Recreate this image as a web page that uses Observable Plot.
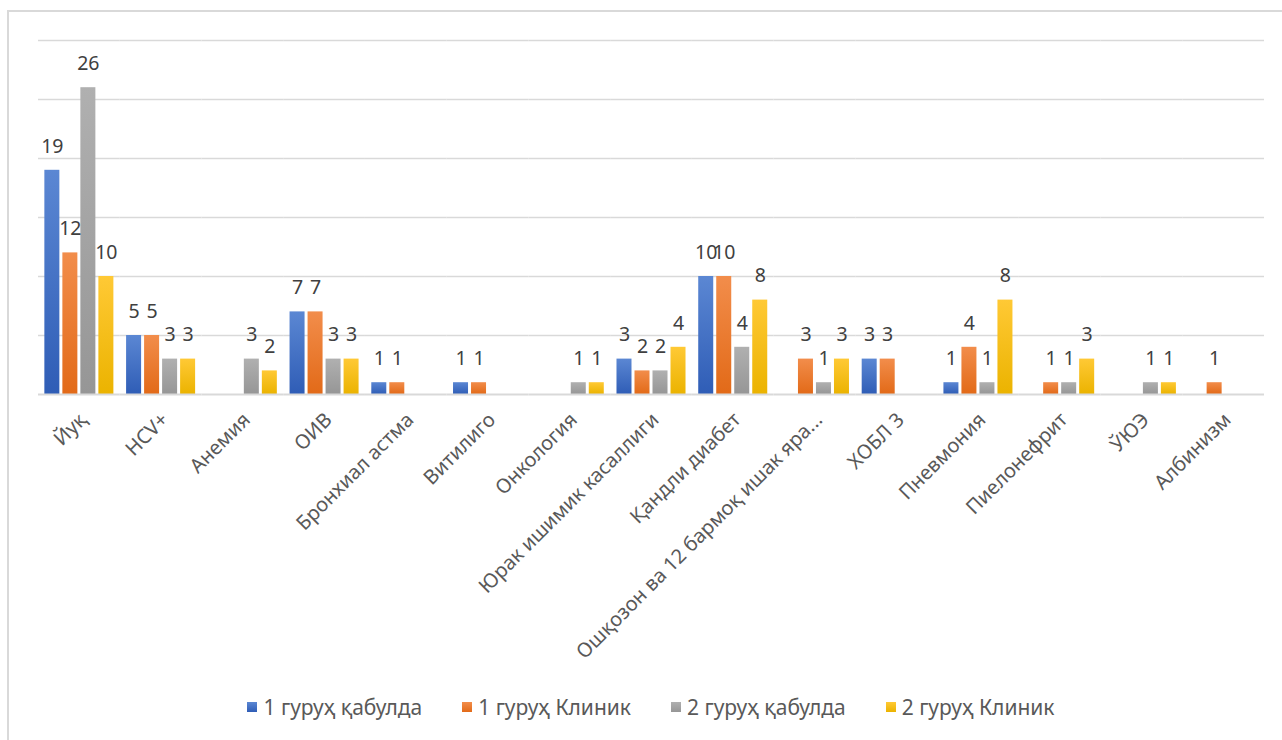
<!DOCTYPE html>
<html>
<head>
<meta charset="utf-8">
<script src="https://cdn.jsdelivr.net/npm/d3@7"></script>
<script src="https://cdn.jsdelivr.net/npm/@observablehq/plot@0.6"></script>
<style>
  html, body { margin: 0; padding: 0; background: #fff; }
  body { width: 1282px; height: 740px; position: relative; overflow: hidden; font-family: "Noto Sans", sans-serif; }
  #frame { position: absolute; left: 7px; top: 10px; width: 1300px; height: 760px; border: 2px solid #d9d9d9; box-sizing: border-box; }
  #chart { position: absolute; left: 0; top: 0; }
  #legend { position: absolute; left: 38px; width: 1226px; top: 692px; line-height: 30px; display: flex; justify-content: center; gap: 40px; font-size: 21px; color: #595959; }
  #legend .item { display: flex; align-items: center; }
  #legend .sw { width: 10px; height: 10px; margin-right: 6px; }
</style>
</head>
<body>
<div id="frame"></div>
<div id="chart"></div>
<div id="legend"></div>
<script>
const categories = ["Йуқ","HCV+","Анемия","ОИВ","Бронхиал астма","Витилиго","Онкология","Юрак ишимик касаллиги","Қандли диабет","Ошқозон ва 12 бармоқ ишак яра...","ХОБЛ 3","Пневмония","Пиелонефрит","ЎЮЭ","Албинизм"];
const seriesNames = ["1 гуруҳ қабулда","1 гуруҳ Клиник","2 гуруҳ қабулда","2 гуруҳ Клиник"];
const group1Reception = [19,5,null,7,1,1,null,3,10,null,3,1,null,null,null];
const group1Clinic    = [12,5,null,7,1,1,null,2,10,3,3,4,1,null,1];
const group2Reception = [26,3,3,3,null,null,1,2,4,1,null,1,1,1,null];
const group2Clinic    = [10,3,2,3,null,null,1,4,8,3,null,8,3,1,null];
const seriesColors = ["#4472C4","#ED7D31","#A5A5A5","#FFC000"];
const gridValues = [0,5,10,15,20,25,30];

const seriesValues = [group1Reception, group1Clinic, group2Reception, group2Clinic];
const data = [];
categories.forEach((c, i) => {
  seriesNames.forEach((s, j) => {
    const v = seriesValues[j][i];
    if (v != null) data.push({category: c, series: s, value: v});
  });
});

const gradIds = ["g0","g1","g2","g3"];
const gradStops = [
  ["#5B87D3","#2F5DB6"],
  ["#F28D4B","#E26A18"],
  ["#B0B0B0","#969696"],
  ["#FFC935","#EBB300"]
];

const chart = Plot.plot({
  width: 1282,
  height: 690,
  marginLeft: 38,
  marginRight: 18,
  marginTop: 40,
  marginBottom: 296,
  style: {fontFamily: "'Noto Sans', sans-serif", background: "transparent"},
  fx: {domain: categories, paddingInner: 0, paddingOuter: 0, round: false, label: null},
  x: {domain: seriesNames, paddingInner: 0.1667, paddingOuter: 0.353, round: false, axis: null},
  y: {domain: [0, 30], axis: null},
  color: {domain: seriesNames, range: gradIds.map(id => `url(#${id})`)},
  marks: [
    Plot.ruleY(gridValues.filter(v => v > 0), {stroke: "#d9d9d9", strokeWidth: 1.5}),
    Plot.barY(data, {fx: "category", x: "series", y: "value", fill: "series"}),
    Plot.ruleY([0], {stroke: "#d9d9d9", strokeWidth: 2}),
    Plot.text(data, {fx: "category", x: "series", y: "value", text: d => String(d.value), dy: -24, lineAnchor: "middle", fontSize: 19.5, fill: "#404040"}),
    Plot.axisFx({anchor: "bottom", tickRotate: -45, tickSize: 0, tickPadding: 22, dx: 4, fontSize: 20, fill: "#595959", label: null})
  ]
});

const svg = d3.select(chart);
const defs = svg.insert("defs", ":first-child");
gradIds.forEach((id, i) => {
  const g = defs.append("linearGradient").attr("id", id).attr("x1", 0).attr("y1", 0).attr("x2", 0).attr("y2", 1);
  g.append("stop").attr("offset", "0%").attr("stop-color", gradStops[i][0]);
  g.append("stop").attr("offset", "100%").attr("stop-color", gradStops[i][1]);
});
document.getElementById("chart").appendChild(chart);

const legend = d3.select("#legend");
seriesNames.forEach((s, i) => {
  const it = legend.append("div").attr("class", "item");
  it.append("div").attr("class", "sw").style("background", `linear-gradient(${gradStops[i][0]}, ${gradStops[i][1]})`);
  it.append("span").text(s);
});
</script>
</body>
</html>
